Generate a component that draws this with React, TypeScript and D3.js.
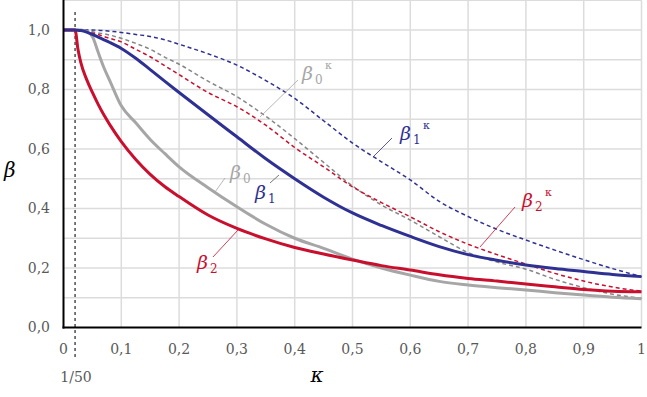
import React from "react";
import * as d3 from "d3";

const kappa = [0, 0.02, 0.025, 0.03, 0.04, 0.05, 0.06, 0.07, 0.08, 0.1, 0.125, 0.15, 0.175, 0.2, 0.25, 0.3, 0.35, 0.4, 0.45, 0.5, 0.55, 0.6, 0.65, 0.7, 0.75, 0.8, 0.85, 0.9, 0.95, 1.0];

const beta0 = [1, 1, 1, 1, 0.995, 0.978, 0.925, 0.873, 0.83, 0.745, 0.688, 0.632, 0.585, 0.54, 0.47, 0.406, 0.347, 0.3, 0.266, 0.23, 0.2, 0.176, 0.155, 0.143, 0.134, 0.126, 0.117, 0.109, 0.102, 0.097];
const beta1 = [1, 1, 0.999, 0.998, 0.993, 0.985, 0.976, 0.967, 0.958, 0.938, 0.905, 0.867, 0.828, 0.79, 0.715, 0.641, 0.567, 0.5, 0.438, 0.385, 0.343, 0.306, 0.272, 0.245, 0.226, 0.21, 0.198, 0.188, 0.178, 0.171];
const beta2 = [1, 1, 0.935, 0.89, 0.834, 0.79, 0.75, 0.714, 0.682, 0.625, 0.565, 0.515, 0.474, 0.44, 0.378, 0.333, 0.298, 0.269, 0.247, 0.227, 0.208, 0.193, 0.177, 0.165, 0.156, 0.146, 0.137, 0.128, 0.122, 0.12];
const beta0k = [1, 1, 1, 0.999, 0.997, 0.994, 0.99, 0.987, 0.983, 0.972, 0.955, 0.935, 0.909, 0.885, 0.828, 0.776, 0.71, 0.635, 0.555, 0.476, 0.412, 0.361, 0.305, 0.252, 0.22, 0.196, 0.162, 0.134, 0.112, 0.098];
const beta1k = [1, 1, 1, 1, 1, 1, 0.999, 0.998, 0.996, 0.992, 0.985, 0.978, 0.967, 0.952, 0.92, 0.882, 0.83, 0.77, 0.695, 0.62, 0.557, 0.496, 0.424, 0.373, 0.33, 0.294, 0.26, 0.228, 0.198, 0.171];
const beta2k = [1, 1, 1, 0.999, 0.995, 0.99, 0.985, 0.978, 0.972, 0.96, 0.935, 0.91, 0.88, 0.85, 0.79, 0.742, 0.68, 0.605, 0.54, 0.473, 0.42, 0.372, 0.322, 0.28, 0.245, 0.213, 0.182, 0.156, 0.136, 0.122];

const xTicks = [0, 0.1, 0.2, 0.3, 0.4, 0.5, 0.6, 0.7, 0.8, 0.9, 1];
const xTickLabels = ["0", "0,1", "0,2", "0,3", "0,4", "0,5", "0,6", "0,7", "0,8", "0,9", "1"];
const yTicks = [0, 0.2, 0.4, 0.6, 0.8, 1.0];
const yTickLabels = ["0,0", "0,2", "0,4", "0,6", "0,8", "1,0"];
const yGrid = [0.1, 0.2, 0.3, 0.4, 0.5, 0.6, 0.7, 0.8, 0.9, 1.0, 1.1];
const kappaMark = 0.02;

const BLUE = "#2e3192";
const RED = "#c8102e";
const GRAY = "#a6a6a6";
const GRAYD = "#858585";

export default function App() {
  const x = d3.scaleLinear().domain([0, 1]).range([63.5, 641.5]);
  const y = d3.scaleLinear().domain([0, 1.1]).range([327.5, 0.25]);
  const line = (vals: number[]) =>
    d3
      .line<number>()
      .x((_, i) => x(kappa[i]))
      .y((v) => y(v))
      .curve(d3.curveMonotoneX)(vals) as string;

  const series = [
    { v: beta0k, c: GRAYD, w: 1.5, dash: "4,3" },
    { v: beta2k, c: RED, w: 1.5, dash: "4,3" },
    { v: beta1k, c: BLUE, w: 1.5, dash: "4,3" },
    { v: beta0, c: GRAY, w: 3, dash: null },
    { v: beta2, c: RED, w: 3, dash: null },
    { v: beta1, c: BLUE, w: 3, dash: null },
  ];

  const tickFont = "DejaVu Serif";
  const label = (
    lx: number,
    ly: number,
    sub: string,
    color: string,
    sup: boolean
  ) => (
    <g fill={color} fontFamily="DejaVu Serif">
      <text x={lx} y={ly} fontSize={19} fontStyle="italic">β</text>
      <text x={lx + 13} y={ly + 4} fontSize={12}>{sub}</text>
      {sup && (
        <text x={lx + 23} y={ly - 11} fontSize={11}>κ</text>
      )}
    </g>
  );

  return (
    <svg
      width={647}
      height={397}
      style={{ position: "absolute", left: 0, top: 0, background: "#fff" }}
    >
      {yGrid.map((g) => (
        <line key={"yg" + g} x1={x(0)} x2={x(1)} y1={y(g)} y2={y(g)} stroke="#dcdcdc" strokeWidth={1.5} />
      ))}
      {xTicks.slice(1).map((g) => (
        <line key={"xg" + g} x1={x(g)} x2={x(g)} y1={y(0)} y2={y(1.1)} stroke="#dcdcdc" strokeWidth={1.5} />
      ))}
      <line x1={x(kappaMark)} x2={x(kappaMark)} y1={12} y2={360} stroke="#222" strokeWidth={1.2} strokeDasharray="3,3" />
      {series.map((s, i) => (
        <path key={i} d={line(s.v)} fill="none" stroke={s.c} strokeWidth={s.w} strokeDasharray={s.dash || undefined} strokeLinejoin="round" />
      ))}
      <line x1={x(0)} x2={x(0)} y1={0} y2={y(0) + 1} stroke="#000" strokeWidth={2} />
      <line x1={x(0) - 1} x2={x(1)} y1={y(0)} y2={y(0)} stroke="#000" strokeWidth={2} />
      {yTicks.map((t, i) => (
        <text key={"yt" + t} x={50} y={y(t)} dy="0.35em" textAnchor="end" fontFamily={tickFont} fontSize={14} fill="#595959">
          {yTickLabels[i]}
        </text>
      ))}
      {xTicks.map((t, i) => (
        <text key={"xt" + t} x={x(t)} y={354} textAnchor="middle" fontFamily={tickFont} fontSize={14} fill="#595959">
          {xTickLabels[i]}
        </text>
      ))}
      <text x={x(kappaMark) + 1} y={382} textAnchor="middle" fontFamily={tickFont} fontSize={14} fill="#595959">1/50</text>
      <text x={4} y={177} fontFamily="DejaVu Serif" fontStyle="italic" fontSize={20} fill="#000">β</text>
      <text x={317} y={382} textAnchor="middle" fontFamily="DejaVu Serif" fontStyle="italic" fontSize={20} fill="#000">κ</text>

      <line x1={298} y1={80} x2={260} y2={117} stroke={GRAY} strokeWidth={0.8} />
      <line x1={392} y1={138} x2={373} y2={157} stroke={BLUE} strokeWidth={0.8} />
      <line x1={515} y1={207} x2={480} y2={247} stroke={RED} strokeWidth={0.8} />
      <line x1={225} y1={178} x2={215} y2={192} stroke={GRAY} strokeWidth={0.8} />
      <line x1={279} y1={175} x2={270} y2={183} stroke="#555" strokeWidth={0.8} />
      <line x1={213} y1={257} x2={238} y2={230} stroke={RED} strokeWidth={0.8} />

      {label(302, 80, "0", GRAY, true)}
      {label(400, 140, "1", BLUE, true)}
      {label(522, 207, "2", RED, true)}
      {label(230, 179, "0", GRAY, false)}
      {label(255, 199, "1", BLUE, false)}
      {label(197, 269, "2", RED, false)}
    </svg>
  );
}
